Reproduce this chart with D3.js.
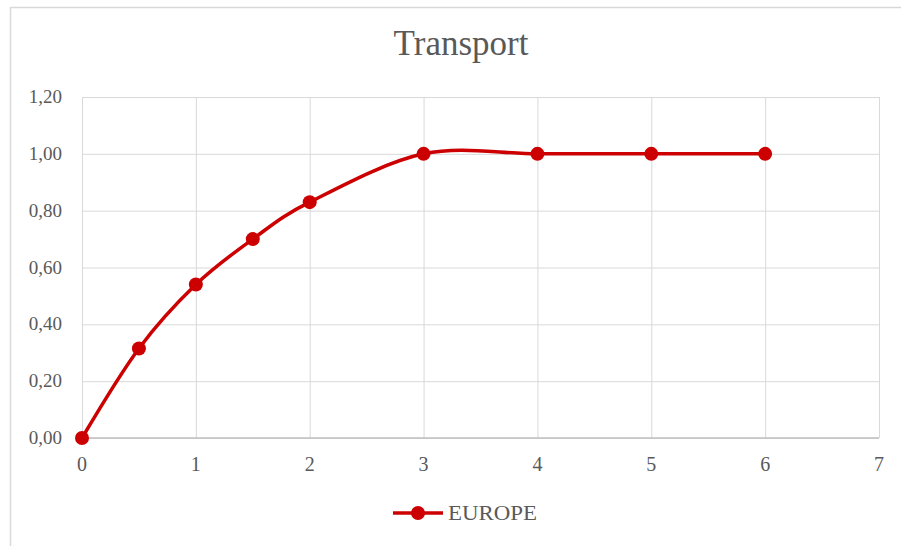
<!DOCTYPE html>
<html>
<head>
<meta charset="utf-8">
<script src="https://cdn.jsdelivr.net/npm/d3@7"></script>
<style>
  html, body { margin: 0; padding: 0; background: #fff; }
  svg { display: block; }
</style>
</head>
<body>
<svg id="chart" width="901" height="546"></svg>
<script>
// EUROPE transport series
const xValues = [0, 0.5, 1, 1.5, 2, 3, 4, 5, 6];
const europe = [0, 0.315, 0.54, 0.70, 0.83, 1.00, 1.00, 1.00, 1.00];
const xTicks = [0, 1, 2, 3, 4, 5, 6, 7];
const yTicks = [0, 0.2, 0.4, 0.6, 0.8, 1.0, 1.2];
const seriesName = "EUROPE";
const chartTitle = "Transport";

const FONT = '"Liberation Serif"';
const TEXT_COLOR = "#595959";
const RED = "#cc0000";

const svg = d3.select("#chart");
const W = 901, H = 546;
const plot = { left: 82, right: 879, top: 97, bottom: 438 };

// outer chart frame
svg.append("rect")
  .attr("x", 10.5).attr("y", 7.5)
  .attr("width", W + 20).attr("height", H + 20)
  .attr("fill", "#fff").attr("stroke", "#d9d9d9").attr("stroke-width", 1.5);

const x = d3.scaleLinear().domain([0, 7]).range([plot.left, plot.right]);
const y = d3.scaleLinear().domain([0, 1.2]).range([plot.bottom, plot.top]);

const fmt = v => d3.format(".2f")(v).replace(".", ",");

// horizontal gridlines
svg.append("g")
  .attr("transform", `translate(${plot.left},0)`)
  .call(d3.axisLeft(y).tickValues(yTicks).tickSize(-(plot.right - plot.left)).tickFormat(""))
  .call(g => g.select(".domain").remove())
  .call(g => g.selectAll("line").attr("stroke", "#d9d9d9").attr("stroke-width", 1));

// vertical gridlines
svg.append("g")
  .attr("transform", `translate(0,${plot.bottom})`)
  .call(d3.axisBottom(x).tickValues(xTicks).tickSize(-(plot.bottom - plot.top)).tickFormat(""))
  .call(g => g.select(".domain").remove())
  .call(g => g.selectAll("line").attr("stroke", "#d9d9d9").attr("stroke-width", 1));

// x axis line
svg.append("line")
  .attr("x1", plot.left).attr("x2", plot.right)
  .attr("y1", y(0)).attr("y2", y(0))
  .attr("stroke", "#bfbfbf").attr("stroke-width", 1.5);

// all labels share one serif face
const label = sel => sel.attr("font-family", "Liberation Serif")
  .style("font-family", FONT).style("fill", TEXT_COLOR);

// y tick labels
svg.append("g")
  .selectAll("text")
  .data(yTicks)
  .join("text")
  .attr("x", 62).attr("y", d => y(d) + 6)
  .attr("text-anchor", "end")
  .call(label).style("font-size", "19px")
  .text(fmt);

// x tick labels
svg.append("g")
  .selectAll("text")
  .data(xTicks)
  .join("text")
  .attr("x", d => x(d)).attr("y", plot.bottom + 33)
  .attr("text-anchor", "middle")
  .call(label).style("font-size", "20px")
  .text(d => d);

// title
svg.append("text")
  .attr("x", 461).attr("y", 55)
  .attr("text-anchor", "middle")
  .call(label).style("font-size", "35px")
  .text(chartTitle);

// series line
const pts = xValues.map((v, i) => [v, europe[i]]);
const line = d3.line()
  .x(d => x(d[0])).y(d => y(d[1]))
  .curve(d3.curveCardinal.tension(0));

svg.append("path")
  .datum(pts)
  .attr("d", line)
  .attr("fill", "none")
  .attr("stroke", RED)
  .attr("stroke-width", 3.5)
  .attr("stroke-linejoin", "round");

svg.append("g")
  .selectAll("circle")
  .data(pts)
  .join("circle")
  .attr("cx", d => x(d[0])).attr("cy", d => y(d[1]))
  .attr("r", 7)
  .attr("fill", RED);

// legend
const lg = svg.append("g");
lg.append("line")
  .attr("x1", 393).attr("x2", 443).attr("y1", 513).attr("y2", 513)
  .attr("stroke", RED).attr("stroke-width", 3.5);
lg.append("circle")
  .attr("cx", 418).attr("cy", 513).attr("r", 7).attr("fill", RED);
lg.append("text")
  .attr("x", 448).attr("y", 520)
  .attr("textLength", 89).attr("lengthAdjust", "spacingAndGlyphs")
  .call(label).style("font-size", "21px")
  .text(seriesName);
</script>
</body>
</html>
